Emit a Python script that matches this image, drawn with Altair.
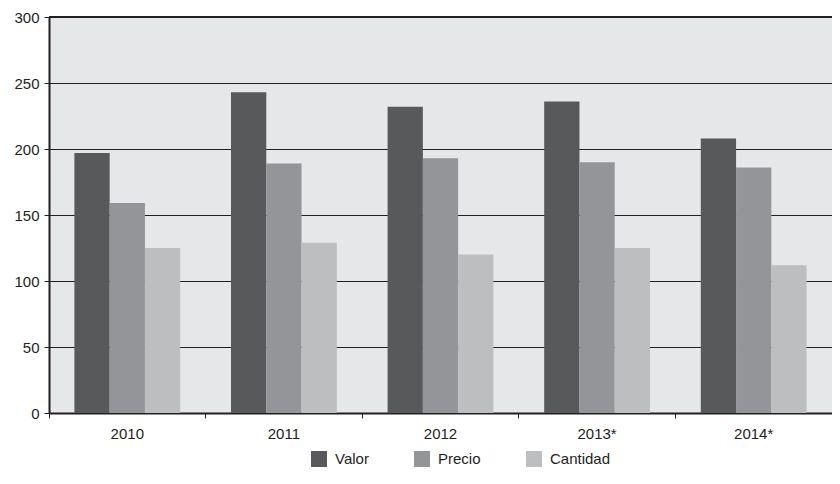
import altair as alt
import pandas as pd

years = ["2010", "2011", "2012", "2013*", "2014*"]
series = ["Valor", "Precio", "Cantidad"]
valor = [197, 243, 232, 236, 208]
precio = [159, 189, 193, 190, 186]
cantidad = [125, 129, 120, 125, 112]
colors = ["#58595b", "#939598", "#bcbec0"]

rows = []
for name, vals in zip(series, [valor, precio, cantidad]):
    for y, v in zip(years, vals):
        rows.append({"year": y, "serie": name, "value": v})
df = pd.DataFrame(rows)

FONT = "Liberation Sans"
INK = "#231f20"
W = 783

bars = alt.Chart(df).mark_bar().encode(
    x=alt.X("year:N", sort=years, title=None,
            scale=alt.Scale(paddingInner=0, paddingOuter=0),
            axis=alt.Axis(labelAngle=0, bandPosition=0,
                          domainWidth=2, domainColor=INK, tickColor=INK,
                          tickSize=5, tickWidth=1, labelPadding=8,
                          labelFontSize=15, labelFont=FONT, labelColor=INK)),
    xOffset=alt.XOffset("serie:N", sort=series,
                        scale=alt.Scale(paddingInner=0, paddingOuter=0.72)),
    y=alt.Y("value:Q", title=None,
            scale=alt.Scale(domain=[0, 300], nice=False),
            axis=alt.Axis(values=[0, 50, 100, 150, 200, 250, 300],
                          domainWidth=2, domainColor=INK, tickColor=INK,
                          tickSize=5, labelPadding=5, grid=True,
                          gridColor=INK, gridWidth=1.2,
                          labelFontSize=15, labelFont=FONT, labelColor=INK)),
    color=alt.Color("serie:N", sort=series,
                    scale=alt.Scale(domain=series, range=colors),
                    legend=alt.Legend(title=None, orient="none",
                                      direction="horizontal",
                                      legendX=262, legendY=434,
                                      symbolType="square", symbolSize=256,
                                      symbolStrokeWidth=0, symbolOpacity=1,
                                      labelFontSize=15, labelFont=FONT,
                                      labelColor=INK, labelOffset=8,
                                      columnPadding=45)),
)

top = alt.Chart(df).mark_rule(color=INK, strokeWidth=2).encode(
    y=alt.value(0), x=alt.value(0), x2=alt.value(W)
)

chart = alt.layer(bars, top).properties(
    width=W, height=396,
    autosize=alt.AutoSizeParams(type="none"),
    padding={"left": 41, "top": 9, "right": 0, "bottom": 55},
    background="white",
).configure_view(fill="#e6e7e8", stroke=None)

chart.save("out.html", embed_options={"renderer": "svg", "actions": False})
